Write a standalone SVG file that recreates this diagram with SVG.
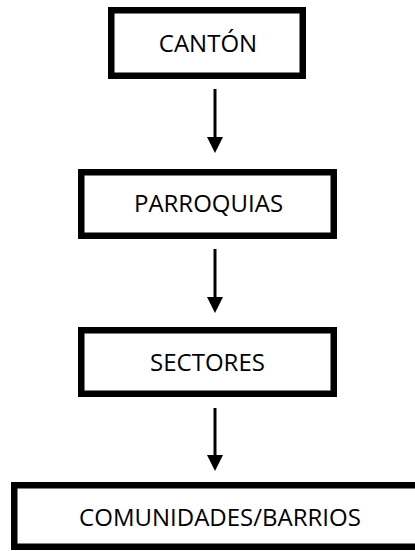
<svg xmlns="http://www.w3.org/2000/svg" width="415" height="551" viewBox="0 0 415 551">
  <style>
    .box { fill: #ffffff; stroke: #000000; stroke-width: 6.5; }
    .lbl { font-family: "Open Sans", "Liberation Sans", sans-serif; font-size: 24px; fill: #000000; text-anchor: middle; }
    .conn { stroke: #000000; stroke-width: 3; fill: none; }
  </style>
  <defs>
    <marker id="ah" viewBox="0 0 16 16" markerWidth="16" markerHeight="16" refX="0" refY="8" orient="auto" markerUnits="userSpaceOnUse">
      <path d="M0,0 L16,8 L0,16 Z" fill="#000000"/>
    </marker>
  </defs>
  <rect width="415" height="551" fill="#ffffff"/>
  <g id="connectors">
    <line class="conn" x1="215" y1="89" x2="215" y2="137" marker-end="url(#ah)"/>
    <line class="conn" x1="215" y1="249" x2="215" y2="297" marker-end="url(#ah)"/>
    <line class="conn" x1="215" y1="408" x2="215" y2="455" marker-end="url(#ah)"/>
  </g>
  <g id="canton">
    <rect class="box" x="111.25" y="10.25" width="191.5" height="65.5"/>
    <text class="lbl" x="208" y="52">CANTÓN</text>
  </g>
  <g id="parroquias">
    <rect class="box" x="81.25" y="172.25" width="252.5" height="63.5"/>
    <text class="lbl" x="208.5" y="212">PARROQUIAS</text>
  </g>
  <g id="sectores">
    <rect class="box" x="81.25" y="330.25" width="252.5" height="63.5"/>
    <text class="lbl" x="207.5" y="371">SECTORES</text>
  </g>
  <g id="comunidades">
    <rect class="box" x="14.25" y="485.25" width="410" height="61.5"/>
    <text class="lbl" x="220" y="526">COMUNIDADES/BARRIOS</text>
  </g>
</svg>
